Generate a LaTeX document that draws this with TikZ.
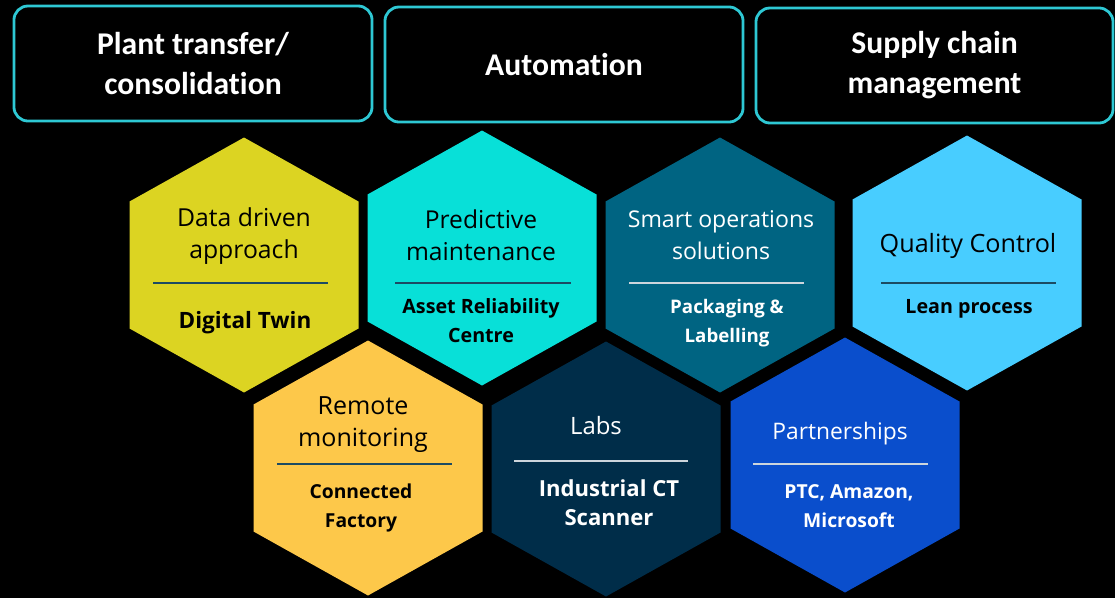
\documentclass[tikz,border=0pt]{standalone}
\usepackage{fontspec}
\setmainfont{Open Sans}
\newfontfamily\boxfont[Ligatures=NoCommon]{Carlito}
\usepackage{tikz}
\usetikzlibrary{positioning}
\usepackage{xcolor}

\definecolor{hexyellow}{HTML}{DCD422}
\definecolor{hexcyan}{HTML}{08E0D8}
\definecolor{hexteal}{HTML}{006482}
\definecolor{hexsky}{HTML}{48CDFF}
\definecolor{hexorange}{HTML}{FDC84A}
\definecolor{hexnavy}{HTML}{002D49}
\definecolor{hexblue}{HTML}{0A4ECC}
\definecolor{boxline}{HTML}{2EC8D4}
\definecolor{ruledark}{HTML}{1C4B63}
\definecolor{rulelight}{HTML}{CDD5DC}

\begin{document}
\begin{tikzpicture}[x=0.025cm, y=-0.025cm,
    topbox/.style={draw=boxline, line width=2pt, rounded corners=10pt, fill=black, text=white,
        font=\boxfont\bfseries\fontsize{22.5}{28.4}\selectfont, align=center, inner sep=0pt,
        minimum width=8.95cm, minimum height=2.875cm},
    hextitle/.style={align=center, inner sep=0pt, font=\fontsize{#1}{22.8}\selectfont},
    hexsub/.style={align=center, inner sep=0pt, font=\bfseries\fontsize{#1}{20.6}\selectfont},
    rule/.style={line width=1.4pt}]
    \useasboundingbox (0,0) rectangle (1115,598);
    \fill[black] (0,0) rectangle (1115,598);

    % top boxes
    \node (plant) [topbox] at (193,63.5) {Plant transfer/\\consolidation};
    \node (automation) [topbox] at (564,64.5) {Automation};
    \node (supply) [topbox, minimum width=8.925cm] at (934.5,65.5) {Supply chain\\management};

    % hexagons
    \foreach \cx/\cy/\col in {244/265/hexyellow, 482/258/hexcyan, 720/265/hexteal, 967/263/hexsky,
                              368/468/hexorange, 606/469/hexnavy, 845/465/hexblue}
        \fill[\col] ({\cx},{\cy-127.5}) -- ++(114.5,64) -- ++(0,127) -- ++(-114.5,64)
                    -- ++(-114.5,-64) -- ++(0,-127) -- cycle;

    % top row
    \node (data) [hextitle=17.6] at (244,236) {Data driven\\approach};
    \draw[rule, ruledark] (153,283) -- (328,283);
    \node (twin) [hexsub=16] at (245,323) {Digital Twin};

    \node (predictive) [hextitle=17.5] at (481,235) {Predictive\\maintenance};
    \draw[rule, ruledark] (395,283) -- (571,283);
    \node (asset) [hexsub=14] at (481,320.5) {Asset Reliability\\Centre};

    \node (smart) [hextitle=16.4, text=white] at (721,235) {Smart operations\\solutions};
    \draw[rule, rulelight] (629,283) -- (804,283);
    \node (packaging) [hexsub=13.3, text=white] at (727,323.5) {Packaging \&\\Labelling};

    \node (quality) [hextitle=17.9] at (968,246) {Quality Control};
    \draw[rule, ruledark] (881,283) -- (1056,283);
    \node (lean) [hexsub=14] at (969,309) {Lean process};

    % bottom row
    \node (remote) [hextitle=17.8] at (363,425) {Remote\\monitoring};
    \draw[rule, ruledark] (277,464) -- (452,464);
    \node (factory) [hexsub=13.7] at (361,508) {Connected\\Factory};

    \node (labs) [hextitle=17, text=white] at (596,426) {Labs};
    \draw[rule, rulelight] (514,461) -- (688,461);
    \node (scanner) [hexsub=15.7, text=white] at (609,502.5) {Industrial CT\\Scanner};

    \node (partners) [hextitle=16.2, text=white] at (840,434) {Partnerships};
    \draw[rule, rulelight] (753,464) -- (928,464);
    \node (ptc) [hexsub=13.7, text=white] at (849,506) {PTC, Amazon,\\Microsoft};
\end{tikzpicture}
\end{document}
